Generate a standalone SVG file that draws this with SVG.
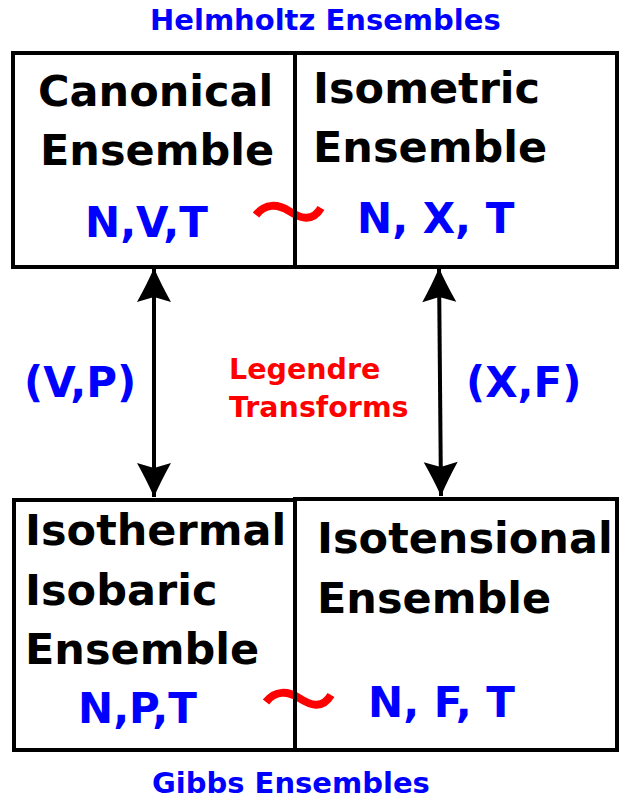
<svg xmlns="http://www.w3.org/2000/svg" width="619" height="802" viewBox="0 0 619 802">
<style>
  text { font-family: "DejaVu Sans", "Liberation Sans", sans-serif; font-weight: bold; }
  .title { font-size: 43px; fill: #000; }
  .vars { font-size: 42px; fill: #0000ff; }
  .head { font-size: 29px; fill: #0000ff; }
  .pair { font-size: 42px; fill: #0000ff; }
  .legendre { font-size: 28.5px; fill: #ff0000; }
  .box { fill: none; stroke: #000; stroke-width: 4; stroke-linejoin: miter; }
  .tilde { fill: none; stroke: #ff0000; stroke-width: 8; }
  .conn { stroke: #000; stroke-width: 4; fill: none; marker-start: url(#ah); marker-end: url(#ah); }
</style>
<defs>
  <marker id="ah" viewBox="-36 -19 38 38" refX="0" refY="0" markerWidth="38" markerHeight="38" markerUnits="userSpaceOnUse" orient="auto-start-reverse">
    <path d="M0,0 Q-16,-7 -34,-17 L-29,0 L-34,17 Q-16,7 0,0 Z" fill="#000"/>
  </marker>
</defs>

<rect width="619" height="802" fill="#fff"/>

<g id="tildes">
  <path class="tilde" d="M256,215 C265,203 278,204 289,211 C300,218 312,223 321,208"/>
  <path class="tilde" d="M266,702 C275,690 288,691 299,698 C310,705 322,710 331,695"/>
</g>

<g id="canonical">
  <path class="box" d="M13,53 H295 V267 H13 Z"/>
  <text class="title" x="38" y="106">Canonical</text>
  <text class="title" x="40" y="165">Ensemble</text>
  <text class="vars" x="85" y="237">N,V,T</text>
</g>

<g id="isometric">
  <path class="box" d="M295,53 H617 V267 H295 Z"/>
  <text class="title" x="313" y="103">Isometric</text>
  <text class="title" x="313" y="162">Ensemble</text>
  <text class="vars" x="357" y="233">N, X, T</text>
</g>

<g id="isothermal-isobaric">
  <path class="box" d="M14,500 H295 V750 H14 Z"/>
  <text class="title" x="25" y="545">Isothermal</text>
  <text class="title" x="25" y="605">Isobaric</text>
  <text class="title" x="25" y="664">Ensemble</text>
  <text class="vars" x="78" y="723">N,P,T</text>
</g>

<g id="isotensional">
  <path class="box" d="M295,499 H617 V750 H295 Z"/>
  <text class="title" x="317" y="553">Isotensional</text>
  <text class="title" x="317" y="613">Ensemble</text>
  <text class="vars" x="368" y="717">N, F, T</text>
</g>

<g id="connectors">
  <line class="conn" x1="154" y1="268" x2="154" y2="497"/>
  <line class="conn" x1="439" y1="268" x2="441" y2="496"/>
</g>

<g id="labels">
  <text class="head" x="150" y="30">Helmholtz Ensembles</text>
  <text class="head" x="152" y="793">Gibbs Ensembles</text>
  <text class="pair" x="24" y="397">(V,P)</text>
  <text class="pair" x="466" y="397">(X,F)</text>
  <text class="legendre" x="229" y="379">Legendre</text>
  <text class="legendre" x="229" y="417">Transforms</text>
</g>
</svg>
